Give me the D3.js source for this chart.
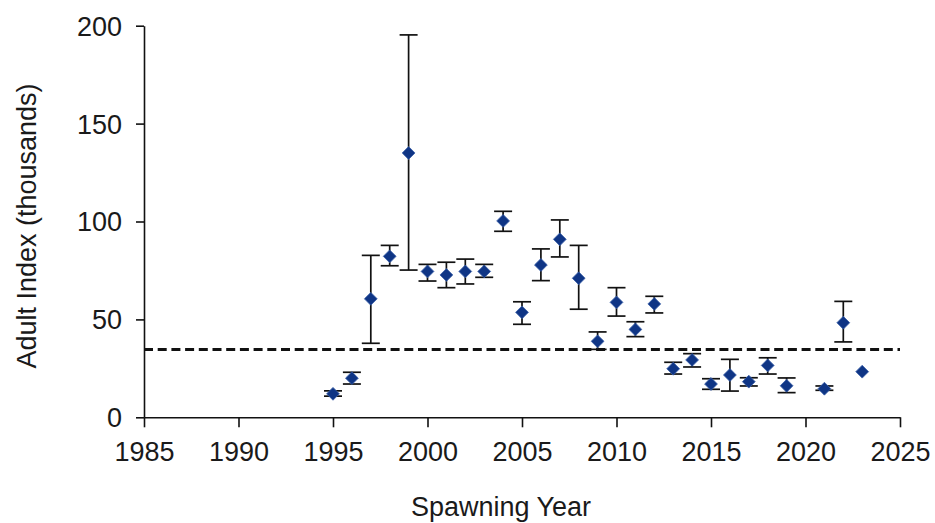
<!DOCTYPE html>
<html>
<head>
<meta charset="utf-8">
<script src="https://cdn.jsdelivr.net/npm/d3@7"></script>
<style>
  html, body { margin: 0; padding: 0; background: #fff; }
  svg { display: block; }
  text { font-family: Arial, "Liberation Sans", sans-serif; fill: #1a1a1a; }
</style>
</head>
<body>
<svg id="chart" width="935" height="523"></svg>
<script>
// Spawning years with an adult index estimate (thousands)
const years  = [1995, 1996, 1997, 1998, 1999, 2000, 2001, 2002, 2003, 2004, 2005, 2006, 2007, 2008, 2009, 2010, 2011, 2012, 2013, 2014, 2015, 2016, 2017, 2018, 2019, 2021, 2022, 2023];
const index  = [12, 20, 60.5, 82.2, 135, 74.5, 72.7, 74.5, 74.5, 100.3, 53.6, 77.8, 90.9, 71, 38.8, 58.7, 44.9, 57.9, 24.8, 29.3, 17, 21.6, 18.2, 26.5, 16.1, 14.6, 48.3, 23.3];
// Upper and lower confidence bounds (null where no interval is given)
const upper  = [13.5, 23, 82.7, 87.8, 195.3, 78.1, 79.2, 80.8, 78.1, 105.2, 59, 86, 100.8, 87.8, 43.6, 66.2, 48.8, 61.8, 28.1, 32.5, 19.7, 29.6, 20.2, 30.4, 20.1, 16, 59.2, null];
const lower  = [10.8, 17, 37.8, 77.4, 75.2, 69.6, 66.2, 68.1, 71.5, 95, 47.5, 69.8, 81.9, 55.2, 34.7, 51.7, 41.2, 53.3, 22.1, 25.7, 14.3, 13.4, 16, 22.1, 12.6, 13.8, 38.5, null];
// Reference level drawn as a dashed line
const threshold = 34.6;
const xTicks = [1985, 1990, 1995, 2000, 2005, 2010, 2015, 2020, 2025];
const yTicks = [0, 50, 100, 150, 200];

const svg = d3.select("#chart");
const plot = { left: 144, right: 900, top: 25.7, bottom: 417.3 };
const fontSize = 27;

const x = d3.scaleLinear().domain([1985, 2025]).range([plot.left, plot.right]);
const y = d3.scaleLinear().domain([0, 200]).range([plot.bottom, plot.top]);

// X axis
const gx = svg.append("g").attr("transform", `translate(0,${plot.bottom})`)
  .call(d3.axisBottom(x).tickValues(xTicks).tickFormat(d3.format("d")).tickSize(10).tickSizeOuter(0));
gx.select(".domain").attr("stroke", "#111").attr("stroke-width", 1.6);
gx.selectAll(".tick line").attr("stroke", "#111").attr("stroke-width", 1.6);
gx.selectAll(".tick text").attr("font-size", fontSize).attr("dy", 0).attr("y", 44)
  .style("font-family", "Arial, 'Liberation Sans', sans-serif").attr("fill", "#1a1a1a");

// Y axis
const gy = svg.append("g").attr("transform", `translate(${plot.left},0)`)
  .call(d3.axisLeft(y).tickValues(yTicks).tickSize(8).tickSizeOuter(0));
gy.select(".domain").attr("stroke", "#111").attr("stroke-width", 1.6);
gy.selectAll(".tick line").attr("stroke", "#111").attr("stroke-width", 1.6);
gy.selectAll(".tick text").attr("font-size", fontSize).attr("x", -22).attr("dy", "0.35em")
  .style("font-family", "Arial, 'Liberation Sans', sans-serif").attr("fill", "#1a1a1a");

// Axis titles
svg.append("text").attr("x", 501).attr("y", 516)
  .attr("text-anchor", "middle").attr("font-size", fontSize).text("Spawning Year");
svg.append("text").attr("transform", `translate(36,226) rotate(-90)`)
  .attr("text-anchor", "middle").attr("font-size", fontSize).text("Adult Index (thousands)");

// Dashed reference line
svg.append("line")
  .attr("x1", x(1985)).attr("x2", x(2025))
  .attr("y1", y(threshold)).attr("y2", y(threshold))
  .attr("stroke", "#111").attr("stroke-width", 3).attr("stroke-dasharray", "9,4.7");

const data = years.map((yr, i) => ({ yr, v: index[i], hi: upper[i], lo: lower[i] }));
const withBars = data.filter(d => d.hi !== null && d.lo !== null);
const capHalf = 9;

const eb = svg.append("g").attr("stroke", "#111").attr("stroke-width", 1.7).attr("fill", "none");
eb.selectAll("line.stem").data(withBars).join("line").attr("class", "stem")
  .attr("x1", d => x(d.yr)).attr("x2", d => x(d.yr))
  .attr("y1", d => y(d.hi)).attr("y2", d => y(d.lo));
eb.selectAll("line.capHi").data(withBars).join("line").attr("class", "capHi")
  .attr("x1", d => x(d.yr) - capHalf).attr("x2", d => x(d.yr) + capHalf)
  .attr("y1", d => y(d.hi)).attr("y2", d => y(d.hi));
eb.selectAll("line.capLo").data(withBars).join("line").attr("class", "capLo")
  .attr("x1", d => x(d.yr) - capHalf).attr("x2", d => x(d.yr) + capHalf)
  .attr("y1", d => y(d.lo)).attr("y2", d => y(d.lo));

// Diamond markers
const diamond = d3.symbol().type(d3.symbolDiamond2).size(105);
svg.append("g").selectAll("path").data(data).join("path")
  .attr("d", diamond)
  .attr("transform", d => `translate(${x(d.yr)},${y(d.v)})`)
  .attr("fill", "#0f3585").attr("stroke", "#3a5fa8").attr("stroke-width", 0.8);
</script>
</body>
</html>
